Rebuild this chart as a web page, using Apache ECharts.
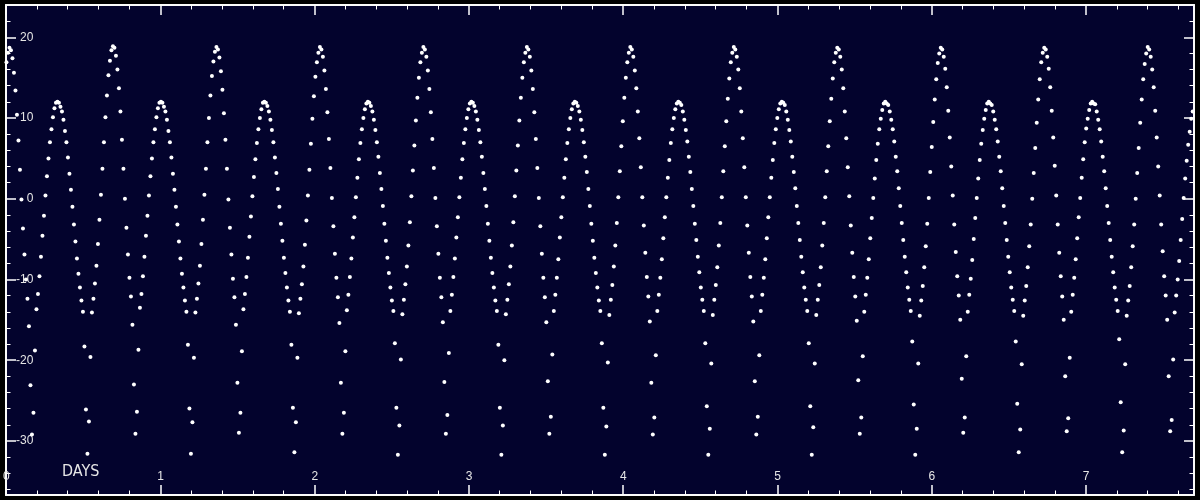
<!DOCTYPE html>
<html><head><meta charset="utf-8">
<script src="https://cdn.jsdelivr.net/npm/echarts@6/dist/echarts.min.js"></script>
<style>html,body{margin:0;padding:0;background:#000;}#c{width:1200px;height:500px;}</style>
</head><body><div id="c"></div>
<script>
// Regular sampling of the time series (days)
const sampleStartDays = 0.003;
const sampleStepDays = 0.00972;

// Values, one block per ~0.67-day cycle
const cycle00 = [16.9, 18.1, 18.7, 18.4, 17.4, 15.6, 13.4, 10.4, 7.2, 3.6,
-0.1, -3.7, -6.9, -10.0, -12.4, -15.8, -23.1, -29.2, -26.5, -18.8,
-13.7, -11.8, -9.6, -7.2, -4.6, -2.1, 0.4, 2.8, 5.0, 7.0,
8.6, 10.1, 11.2, 11.9, 12.0, 11.9, 11.4, 10.8, 9.8, 8.4,
7.0, 5.1, 3.1, 1.1, -1.0, -3.2, -5.3, -7.4, -9.3, -11.0,
-12.6, -14.0, -18.3, -26.1, -31.6, -27.6, -19.6, -14.1, -12.4, -10.5,
-8.3, -5.6, -2.6, 0.5, 3.7, 7.0, 10.1, 12.8, 15.3];
const cycle01 = [17.1, 18.4, 18.9, 18.7, 17.7, 16.0, 13.7, 10.8, 7.3, 3.7,
0.0, -3.6, -6.9, -9.8, -12.1, -15.6, -23.0, -29.1, -26.4, -18.7,
-13.5, -11.8, -9.6, -7.2, -4.6, -2.1, 0.4, 2.8, 5.0, 7.0,
8.6, 10.1, 11.2, 11.9, 12.0, 11.9, 11.4, 10.8, 9.8, 8.4,
7.0, 5.1, 3.1, 1.1, -1.0, -3.2, -5.3, -7.4, -9.3, -11.0,
-12.6, -14.0, -18.1, -26.0, -31.6, -27.7, -19.7, -14.1, -12.4, -10.5,
-8.3, -5.6, -2.6, 0.5, 3.7, 7.0, 10.0, 12.8, 15.2];
const cycle02 = [17.0, 18.2, 18.8, 18.5, 17.5, 15.8, 13.5, 10.6, 7.3, 3.7,
-0.1, -3.6, -6.9, -9.9, -12.2, -15.6, -22.8, -29.0, -26.5, -18.9,
-13.7, -11.8, -9.7, -7.3, -4.7, -2.2, 0.3, 2.7, 4.9, 6.9,
8.6, 10.0, 11.1, 11.9, 12.0, 11.9, 11.5, 10.8, 9.8, 8.5,
7.0, 5.1, 3.2, 1.2, -1.0, -3.1, -5.2, -7.3, -9.2, -11.0,
-12.6, -14.0, -18.1, -25.9, -31.4, -27.7, -19.7, -14.2, -12.4, -10.6,
-8.4, -5.7, -2.7, 0.4, 3.6, 6.8, 9.9, 12.7, 15.1];
const cycle03 = [16.9, 18.1, 18.8, 18.5, 17.6, 15.9, 13.6, 10.7, 7.4, 3.8,
0.1, -3.4, -6.8, -9.8, -12.2, -15.4, -22.8, -29.1, -26.5, -18.9,
-13.8, -11.9, -9.7, -7.4, -4.8, -2.3, 0.2, 2.6, 4.9, 6.9,
8.6, 10.0, 11.1, 11.8, 12.0, 11.9, 11.5, 10.8, 9.8, 8.5,
7.0, 5.2, 3.2, 1.2, -0.9, -3.1, -5.2, -7.3, -9.2, -11.0,
-12.6, -13.9, -17.9, -25.9, -31.7, -28.1, -19.9, -14.3, -12.5, -10.6,
-8.4, -5.8, -2.9, 0.3, 3.5, 6.6, 9.7, 12.5, 15.0];
const cycle04 = [16.9, 18.1, 18.8, 18.5, 17.6, 15.9, 13.6, 10.7, 7.4, 3.8,
0.1, -3.4, -6.8, -9.8, -12.2, -15.3, -22.7, -29.1, -26.8, -19.1,
-13.9, -11.9, -9.7, -7.4, -4.8, -2.3, 0.2, 2.6, 4.9, 6.9,
8.6, 10.0, 11.1, 11.8, 12.0, 11.9, 11.5, 10.8, 9.8, 8.5,
7.0, 5.2, 3.2, 1.2, -0.9, -3.1, -5.2, -7.3, -9.2, -11.0,
-12.6, -13.9, -18.1, -25.9, -31.7, -28.1, -20.0, -14.3, -12.5, -10.6,
-8.4, -5.8, -2.9, 0.3, 3.5, 6.6, 9.7, 12.5, 15.0];
const cycle05 = [16.9, 18.1, 18.8, 18.5, 17.6, 15.9, 13.6, 10.7, 7.4, 3.8,
0.1, -3.4, -6.8, -9.8, -12.2, -15.3, -22.6, -29.1, -27.0, -19.3,
-13.9, -11.9, -9.8, -7.5, -4.8, -2.3, 0.2, 2.6, 4.9, 6.9,
8.6, 10.0, 11.1, 11.8, 12.0, 11.9, 11.5, 10.8, 9.8, 8.5,
7.0, 5.2, 3.3, 1.2, -0.9, -3.1, -5.2, -7.3, -9.2, -11.0,
-12.6, -13.9, -17.9, -25.9, -31.7, -28.2, -20.3, -14.4, -12.5, -10.7,
-8.4, -5.8, -3.0, 0.2, 3.4, 6.5, 9.6, 12.5, 15.0];
const cycle06 = [16.9, 18.1, 18.8, 18.5, 17.6, 15.9, 13.7, 10.8, 7.5, 3.9,
0.2, -3.3, -6.7, -9.7, -12.1, -15.2, -22.8, -29.2, -27.1, -19.4,
-13.9, -11.9, -9.8, -7.5, -4.9, -2.3, 0.2, 2.6, 4.8, 6.9,
8.6, 10.0, 11.1, 11.8, 12.0, 11.9, 11.6, 10.8, 9.8, 8.5,
7.1, 5.2, 3.3, 1.2, -0.9, -3.1, -5.1, -7.2, -9.1, -11.0,
-12.5, -13.9, -17.9, -25.7, -31.7, -28.5, -20.4, -14.4, -12.5, -10.7,
-8.5, -5.8, -3.0, 0.2, 3.4, 6.5, 9.6, 12.4, 14.9];
const cycle07 = [16.9, 18.1, 18.8, 18.5, 17.6, 16.0, 13.7, 10.8, 7.5, 3.9,
0.2, -3.3, -6.7, -9.7, -12.1, -15.2, -22.6, -29.2, -27.0, -19.4,
-13.9, -11.9, -9.8, -7.5, -4.9, -2.3, 0.2, 2.6, 4.8, 6.9,
8.6, 10.0, 11.1, 11.8, 12.0, 11.9, 11.6, 10.8, 9.8, 8.5,
7.1, 5.2, 3.3, 1.3, -0.9, -3.0, -5.1, -7.2, -9.1, -11.0,
-12.5, -13.9, -17.9, -25.7, -31.7, -28.3, -20.4, -14.4, -12.5, -10.7,
-8.5, -5.8, -3.0, 0.2, 3.4, 6.5, 9.6, 12.4, 14.9];
const cycle08 = [16.9, 18.1, 18.7, 18.5, 17.6, 16.0, 13.7, 10.8, 7.5, 3.9,
0.3, -3.3, -6.7, -9.7, -12.1, -15.1, -22.5, -29.1, -27.1, -19.5,
-14.0, -11.9, -9.8, -7.5, -4.9, -2.4, 0.1, 2.5, 4.8, 6.8,
8.6, 9.9, 11.0, 11.8, 12.0, 11.8, 11.6, 10.8, 9.8, 8.6,
7.1, 5.2, 3.4, 1.3, -0.9, -3.0, -5.1, -7.2, -9.1, -11.0,
-12.5, -13.9, -17.7, -25.5, -31.7, -28.5, -20.4, -14.5, -12.6, -10.8,
-8.5, -5.9, -3.1, 0.1, 3.3, 6.4, 9.5, 12.3, 14.8];
const cycle09 = [16.8, 18.0, 18.7, 18.5, 17.6, 16.1, 13.8, 10.9, 7.6, 4.0,
0.4, -3.2, -6.6, -9.6, -12.0, -15.0, -22.3, -29.0, -27.1, -19.5,
-14.0, -11.9, -9.9, -7.6, -5.0, -2.4, 0.1, 2.5, 4.8, 6.8,
8.5, 9.9, 11.0, 11.8, 12.0, 11.8, 11.6, 10.8, 9.8, 8.6,
7.1, 5.2, 3.4, 1.3, -0.9, -3.0, -5.1, -7.2, -9.1, -11.0,
-12.5, -13.9, -17.7, -25.4, -31.4, -28.6, -20.5, -14.5, -12.6, -10.8,
-8.5, -5.9, -3.2, 0.0, 3.2, 6.3, 9.4, 12.3, 14.8];
const cycle10 = [16.9, 18.1, 18.7, 18.5, 17.6, 16.1, 13.8, 10.9, 7.6, 4.1,
0.4, -3.2, -6.7, -9.6, -12.1, -15.0, -22.0, -28.8, -27.2, -19.7,
-14.0, -11.9, -9.8, -7.5, -4.9, -2.3, 0.1, 2.6, 4.9, 7.0,
8.7, 9.9, 11.0, 11.8, 12.0, 11.8, 11.7, 10.8, 9.8, 8.6,
7.1, 5.2, 3.4, 1.3, -0.9, -3.0, -5.1, -7.2, -9.1, -11.0,
-12.5, -13.9, -17.4, -25.2, -31.4, -28.7, -20.5, -14.5, -12.6, -10.8,
-8.5, -5.9, -3.2, 0.0, 3.2, 6.3, 9.4, 12.3, 14.8];
const cycle11 = [16.7, 18.0, 18.8, 18.5, 17.6, 16.0, 13.8, 10.9, 7.6, 4.0,
0.4, -3.2, -6.5, -9.6, -12.0, -15.0, -22.0, -28.8, -27.4, -19.9,
-14.1, -12.0, -10.0, -7.7, -5.1, -2.5, 0.1, 2.5, 4.7, 6.7,
8.3, 9.9, 10.8];

// Axis tick labels
const dayTicks = [0, 1, 2, 3, 4, 5, 6, 7];
const valueTicks = [-30, -20, -10, 0, 10, 20];
const xAxisTitle = 'DAYS';

const values = [].concat(cycle00, cycle01, cycle02, cycle03, cycle04, cycle05,
  cycle06, cycle07, cycle08, cycle09, cycle10, cycle11);
const points = values.map((v, i) => [sampleStartDays + i * sampleStepDays, v]);

const X_MIN = 0, X_MAX = 7.7, Y_MIN = -36.7, Y_MAX = 24.0;
const dayMinor = [];
for (let i = 1; i * 0.2 < X_MAX; i++) { if (i % 5) dayMinor.push(+(i * 0.2).toFixed(2)); }
const valueMinor = [];
for (let v = -36; v <= 22; v += 2) { if (v % 10) valueMinor.push(v); }

const FG = '#ffffff';
const LABEL = '#e6e6e6';
const FONT = '"Liberation Sans", Arial, sans-serif';
const RECT = { left: 6, right: 6, top: 5, bottom: 5 };

// Each tick family lives in its own overlapping grid (one x and one y axis each).
function grid(main) {
  return Object.assign({ show: main, backgroundColor: main ? '#03032d' : 'transparent',
    borderColor: FG, borderWidth: 1.5 }, RECT);
}
function tickAxis(kind, gi, pos, ticks, len, width) {
  const ax = {
    gridIndex: gi, type: 'value',
    min: kind === 'x' ? X_MIN : Y_MIN, max: kind === 'x' ? X_MAX : Y_MAX,
    axisLine: { show: true, onZero: false, lineStyle: { color: FG, width: 1.5 } },
    splitLine: { show: false },
    axisTick: { show: true, inside: true, length: len, customValues: ticks,
      lineStyle: { color: FG, width: width } },
    axisLabel: { show: false }
  };
  if (pos) ax.position = pos;
  return ax;
}
function labelAxis(kind, gi, labels, margin) {
  return {
    gridIndex: gi, type: 'value',
    min: kind === 'x' ? X_MIN : Y_MIN, max: kind === 'x' ? X_MAX : Y_MAX,
    axisLine: { show: false, onZero: false }, splitLine: { show: false },
    axisTick: { show: false },
    axisLabel: { show: true, customValues: labels, margin: margin,
      color: LABEL, fontSize: 12, fontFamily: FONT }
  };
}

const chart = echarts.init(document.getElementById('c'), null, { renderer: 'canvas' });
chart.setOption({
  backgroundColor: '#000000',
  animation: false,
  title: { text: xAxisTitle, left: 62, top: 464, padding: 0,
    textStyle: { color: LABEL, fontSize: 16, fontWeight: 'normal',
      fontFamily: '"Liberation Sans Narrow", "DejaVu Sans Condensed", "Liberation Sans", sans-serif' } },
  grid: [grid(true), grid(false), grid(false), grid(false), grid(false)],
  xAxis: [
    tickAxis('x', 0, null, dayTicks, 10, 1.5),
    tickAxis('x', 1, null, dayMinor, 4.5, 1),
    tickAxis('x', 2, 'top', dayTicks, 10, 1.5),
    tickAxis('x', 3, 'top', dayMinor, 4.5, 1),
    labelAxis('x', 4, dayTicks, -24)
  ],
  yAxis: [
    tickAxis('y', 0, null, valueTicks, 10, 1.5),
    tickAxis('y', 1, null, valueMinor, 4.5, 1),
    tickAxis('y', 2, 'right', valueTicks, 10, 1.5),
    tickAxis('y', 3, 'right', valueMinor, 4.5, 1),
    labelAxis('y', 4, valueTicks, -27)
  ],
  series: [{
    type: 'scatter', xAxisIndex: 0, yAxisIndex: 0, data: points,
    symbol: 'circle', symbolSize: 4, silent: true, z: 5,
    itemStyle: { color: '#ffffff', opacity: 1 }
  }].concat([1, 2, 3, 4].map(i => ({ type: 'scatter', xAxisIndex: i, yAxisIndex: i, data: [], silent: true })))
});
</script></body></html>
